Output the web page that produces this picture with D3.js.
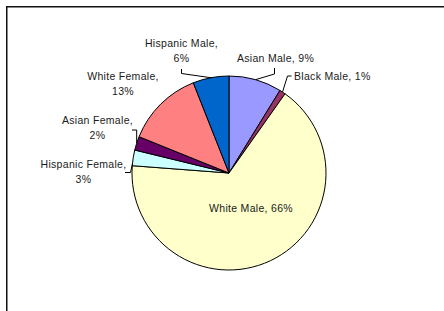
<!DOCTYPE html>
<html>
<head>
<meta charset="utf-8">
<script src="https://cdn.jsdelivr.net/npm/d3@7"></script>
<style>
  html, body { margin: 0; padding: 0; background: #fff; }
  svg { display: block; }
  text { font-family: "Liberation Sans", Arial, sans-serif; font-size: 10.5px; letter-spacing: 0.3px; fill: #1a1a1a; }
</style>
</head>
<body>
<svg id="chart" width="444" height="311"></svg>
<script>
// ---- data ----
const categories = ["Asian Male", "Black Male", "White Male", "Hispanic Female", "Asian Female", "White Female", "Hispanic Male"];
const values = [8.8, 1.0, 66.4, 2.6, 2.3, 12.9, 6.0];
const colors = ["#9999FF", "#993366", "#FFFFCC", "#CCFFFF", "#660066", "#FF8080", "#0066CC"];

// ---- layout (positions kept separate from data) ----
const cx = 229, cy = 173, r = 97;
const labelLayout = [
  { lines: 1, anchor: "middle", x: 275.5, y: [61.5], leader: [[274.5, 68], [274.5, 74]], frac: 0.5 },
  { lines: 1, anchor: "start", x: 294, y: [79.5], leader: [[291.5, 76], [287.5, 76]], frac: 0.5 },
  { lines: 1, anchor: "middle", x: 251, y: [211.5], leader: null },
  { lines: 2, anchor: "middle", x: 83.5, y: [168.3, 182.7], leader: [[125, 172.5], [130.5, 172.5]], frac: 0.12 },
  { lines: 2, anchor: "middle", x: 97.5, y: [124, 139.3], leader: [[132, 130], [136.7, 130]], frac: 0.5 },
  { lines: 2, anchor: "middle", x: 123, y: [80, 94.5], leader: null },
  { lines: 2, anchor: "middle", x: 181.5, y: [46.7, 61.5], leader: [[181.5, 69], [181.5, 73.5]], frac: 0.5 }
];

const svg = d3.select("#chart");

// frame
svg.append("rect")
  .attr("x", 6.75).attr("y", 6.75)
  .attr("width", 460).attr("height", 320)
  .attr("fill", "none").attr("stroke", "#111").attr("stroke-width", 1.5);

const data = categories.map((c, i) => ({ category: c, value: values[i], color: colors[i], i }));
const pie = d3.pie().sort(null).value(d => d.value);
const arcs = pie(data);
const arc = d3.arc().innerRadius(0).outerRadius(r);

const g = svg.append("g").attr("transform", `translate(${cx},${cy})`);
g.selectAll("path.slice")
  .data(arcs)
  .join("path")
  .attr("class", "slice")
  .attr("d", arc)
  .attr("fill", d => d.data.color)
  .attr("stroke", "#000")
  .attr("stroke-width", 1)
  .attr("stroke-linejoin", "round");

// leaders
const line = d3.line();
arcs.forEach((a, k) => {
  const L = labelLayout[k];
  if (!L.leader) return;
  const ang = a.startAngle + (a.endAngle - a.startAngle) * L.frac;
  const ex = cx + r * Math.sin(ang), ey = cy - r * Math.cos(ang);
  svg.append("path")
    .attr("d", line([...L.leader, [ex, ey]]))
    .attr("fill", "none").attr("stroke", "#000").attr("stroke-width", 1);
});

// labels
const total = d3.sum(values);
arcs.forEach((a, k) => {
  const L = labelLayout[k];
  const pct = Math.round(a.data.value / total * 100) + "%";
  const texts = L.lines === 1 ? [a.data.category + ", " + pct] : [a.data.category + ",", pct];
  texts.forEach((t, j) => {
    svg.append("text")
      .attr("x", L.x).attr("y", L.y[j])
      .attr("text-anchor", L.anchor)
      .text(t);
  });
});
</script>
</body>
</html>
